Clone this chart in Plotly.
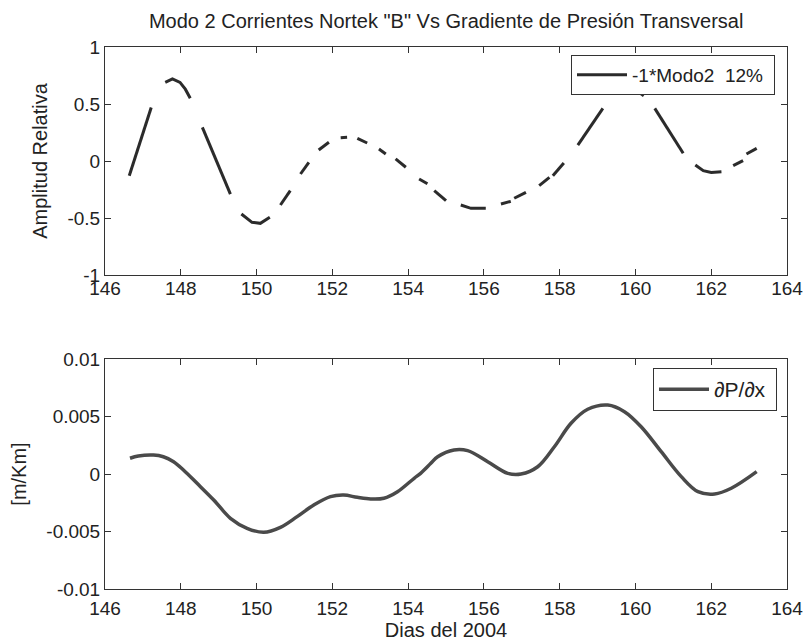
import plotly.graph_objects as go
from plotly.subplots import make_subplots

# ---- data ----
# Top panel: -1*Modo2 (dashed curve; None marks the gaps between dashes)
modo2_dias = [146.64, 147.22, None,
              147.59, 147.78, 147.98, 148.12, 148.25, None,
              148.57, 149.31, None,
              149.60, 149.88, 150.10, 150.35, None,
              150.63, 150.89, None,
              151.16, 151.38, None,
              151.64, 151.91, None,
              152.22, 152.39, None,
              152.66, 152.92, None,
              153.23, 153.41, None,
              153.67, 153.94, None,
              154.29, 154.51, None,
              154.69, 155.00, None,
              155.39, 155.66, 156.05, None,
              156.45, 156.71, None,
              156.80, 157.11, None,
              157.46, 157.73, None,
              157.82, 158.11, None,
              158.48, 159.14, None,
              159.54, 159.80, 160.00, 160.22, None,
              160.51, 161.26, None,
              161.58, 161.79, 162.00, 162.27, None,
              162.58, 162.84, None,
              162.93, 163.20]
modo2_amp = [-0.13, 0.47, None,
             0.69, 0.72, 0.69, 0.63, 0.55, None,
             0.295, -0.29, None,
             -0.465, -0.538, -0.547, -0.494, None,
             -0.386, -0.26, None,
             -0.114, -0.012, None,
             0.096, 0.164, None,
             0.204, 0.208, None,
             0.199, 0.158, None,
             0.105, 0.061, None,
             0.018, -0.055, None,
             -0.158, -0.20, None,
             -0.26, -0.348, None,
             -0.386, -0.415, -0.415, None,
             -0.377, -0.354, None,
             -0.327, -0.275, None,
             -0.216, -0.143, None,
             -0.129, -0.018, None,
             0.14, 0.462, None,
             0.603, 0.638, 0.625, 0.573, None,
             0.462, 0.068, None,
             -0.035, -0.085, -0.10, -0.094, None,
             -0.041, 0.003, None,
             0.061, 0.111]

# Bottom panel: dP/dx [m/Km]
grad_dias = [146.66, 146.88, 147.28, 147.54, 147.81, 148.07, 148.43, 148.87,
             149.31, 149.75, 150.19, 150.63, 151.07, 151.51, 151.95, 152.30,
             152.66, 153.01, 153.36, 153.72, 154.16, 154.33, 154.60, 154.78,
             155.21, 155.57, 156.10, 156.63, 156.98, 157.42, 157.86, 158.30,
             158.74, 159.27, 159.71, 160.15, 160.68, 161.21, 161.65, 162.09,
             162.53, 163.20]
grad_val = [0.00137, 0.00157, 0.00165, 0.00150, 0.00107, 0.00035, -0.00081, -0.00226,
            -0.00385, -0.00472, -0.00507, -0.00464, -0.00371, -0.00270, -0.00197, -0.00183,
            -0.00203, -0.00217, -0.00211, -0.00154, -0.00037, 0.00006, 0.00093, 0.00150,
            0.00209, 0.00203, 0.00107, 0.00006, 0.00000, 0.00063, 0.00237, 0.00441,
            0.00563, 0.00600, 0.00542, 0.00411, 0.00194, -0.00023, -0.00154, -0.00174,
            -0.00124, 0.00020]

x_ticks = [146, 148, 150, 152, 154, 156, 158, 160, 162, 164]
y1_ticks = [-1, -0.5, 0, 0.5, 1]
y1_labels = ["-1", "-0.5", "0", "0.5", "1"]
y2_ticks = [-0.01, -0.005, 0, 0.005, 0.01]
y2_labels = ["-0.01", "-0.005", "0", "0.005", "0.01"]

titulo = 'Modo 2 Corrientes Nortek "B" Vs Gradiente de Presión Transversal'
leyenda1 = "-1*Modo2\u00a0\u00a012%\u00a0"
leyenda2 = "∂P/∂x\u00a0"

FONT = "Liberation Sans, Arial, sans-serif"
INK = "#222222"

fig = make_subplots(rows=2, cols=1, vertical_spacing=0.0)

fig.add_trace(go.Scatter(x=modo2_dias, y=modo2_amp, mode="lines",
                         connectgaps=False, name=leyenda1,
                         line=dict(color="#2b2b2b", width=3),
                         legend="legend"), row=1, col=1)
fig.add_trace(go.Scatter(x=grad_dias, y=grad_val, mode="lines",
                         line=dict(color="#4a4a4a", width=3.5, shape="spline"),
                         name=leyenda2, legend="legend2"), row=2, col=1)

axis_common = dict(showline=True, linecolor="#333333", linewidth=1, mirror="ticks",
                   ticks="inside", ticklen=6, tickcolor="#333333",
                   showgrid=False, zeroline=False, automargin=False,
                   tickfont=dict(family=FONT, size=19, color=INK))

top_dom = [(589 - 275) / 542, 1.0]
bot_dom = [0.0, (589 - 359) / 542]

fig.update_xaxes(**axis_common, range=[146, 164], tickvals=x_ticks,
                 ticktext=[str(v) for v in x_ticks])
fig.update_xaxes(row=1, col=1, ticklabelstandoff=-4)
fig.update_xaxes(row=2, col=1, ticklabelstandoff=2,
                 title=dict(text="Dias del 2004",
                            font=dict(family=FONT, size=20, color=INK), standoff=2))
fig.update_yaxes(**axis_common)
fig.update_yaxes(row=1, col=1, range=[-1, 1], tickvals=y1_ticks, ticktext=y1_labels,
                 domain=top_dom,
                 title=dict(text="Amplitud Relativa",
                            font=dict(family=FONT, size=20, color=INK), standoff=14))
fig.update_yaxes(row=2, col=1, range=[-0.01, 0.01], tickvals=y2_ticks, ticktext=y2_labels,
                 domain=bot_dom,
                 title=dict(text="[m/Km]",
                            font=dict(family=FONT, size=20, color=INK), standoff=14))

legend_common = dict(bgcolor="white", bordercolor="#333333", borderwidth=1,
                     xanchor="right", yanchor="top", itemwidth=50)

fig.update_layout(
    width=809, height=641,
    margin=dict(l=105, r=22, t=47, b=52, autoexpand=False),
    paper_bgcolor="white", plot_bgcolor="white",
    title=dict(text=titulo, x=0.5515, xanchor="center", y=1 - 21 / 641, yanchor="middle",
               font=dict(family=FONT, size=20, color=INK)),
    showlegend=True,
    legend=dict(**legend_common, font=dict(family=FONT, size=19, color=INK),
                x=(775 - 105) / 682, y=(589 - 55) / 542),
    legend2=dict(**legend_common, font=dict(family=FONT, size=21, color=INK),
                 x=(777 - 105) / 682, y=(589 - 368) / 542),
)

fig.write_html("out.html",
               config={"displayModeBar": False},
               post_script="document.body.style.margin='0';document.body.style.padding='0';")
